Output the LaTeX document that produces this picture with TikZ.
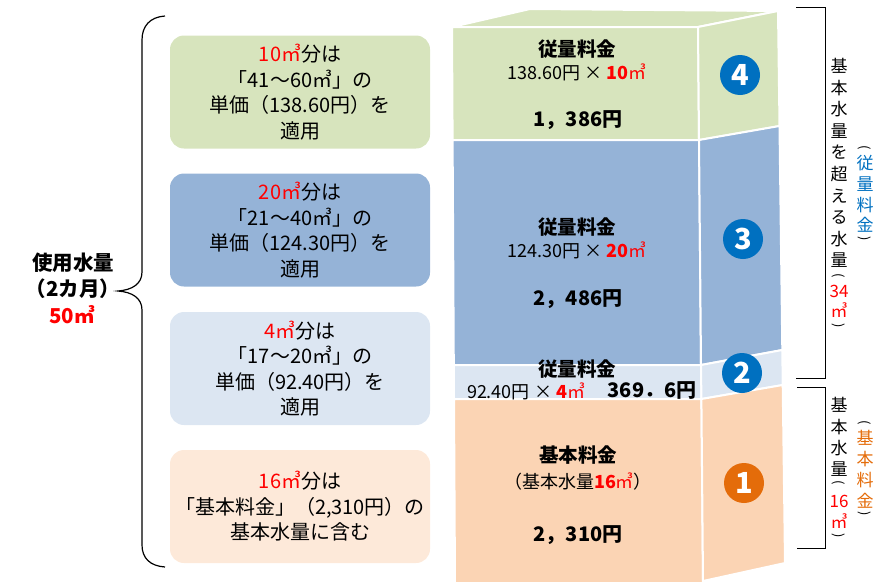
\documentclass[tikz,border=0pt]{standalone}
\usepackage{fontspec}
\setmainfont{Noto Sans CJK JP}
\definecolor{gfill}{HTML}{D7E4BD}
\definecolor{bfill}{HTML}{95B3D7}
\definecolor{lbfill}{HTML}{DCE6F2}
\definecolor{ofill}{HTML}{FBD4B4}
\definecolor{obox}{HTML}{FDE9D9}
\definecolor{cblue}{HTML}{0070C0}
\definecolor{corange}{HTML}{E46C0A}
\definecolor{redx}{HTML}{FF0000}
\tikzset{
 face/.style={draw=white, line width=2pt, line join=round},
 infobox/.style={rounded corners=14pt, minimum width=260pt, minimum height=113pt, inner sep=0pt, align=center, font=\fontsize{20}{25.5}\selectfont},
 num/.style={circle, minimum size=40pt, inner sep=0pt, text=white, font=\bfseries\fontsize{29}{29}\selectfont},
 ttl/.style={font=\bfseries\fontsize{19.5}{19.5}\selectfont, inner sep=0pt},
 calc/.style={font=\fontsize{18}{18}\selectfont, inner sep=0pt},
 amt/.style={font=\bfseries\fontsize{20}{20}\selectfont, inner sep=0pt},
 vch/.style={font=\fontsize{17}{17}\selectfont, inner sep=0pt},
 vpar/.style={font=\fontsize{13}{13}\selectfont, inner sep=0pt, rotate=-90},
 lbl/.style={font=\bfseries\fontsize{20.5}{20.5}\selectfont, inner sep=0pt},
 bracket/.style={draw=black, line width=1pt},
}
\begin{document}
\begin{tikzpicture}[x=1pt,y=-1pt]
\useasboundingbox (0,0) rectangle (890,581);
% stack faces
\filldraw[face, fill=gfill] (452,27) -- (530,9) -- (778,11) -- (698,27) -- cycle;
\filldraw[face, fill=gfill] (452,27) -- (698,27) -- (699,140) -- (452.6,140) -- cycle;
\filldraw[face, fill=gfill] (698,27) -- (778,11) -- (779.5,126) -- (699,140) -- cycle;
\filldraw[face, fill=bfill] (452.6,140) -- (699,140) -- (701,365) -- (453.8,365) -- cycle;
\filldraw[face, fill=bfill] (699,140) -- (779.5,126) -- (782.3,350) -- (701,365) -- cycle;
\filldraw[face, fill=lbfill] (453.8,365) -- (701,365) -- (701.4,399) -- (454,399) -- cycle;
\filldraw[face, fill=lbfill] (701,365) -- (782.3,350) -- (782.7,385) -- (701.4,399) -- cycle;
\filldraw[face, fill=ofill] (454,399) -- (701.4,399) -- (703,585) -- (455,585) -- cycle;
\filldraw[face, fill=ofill] (701.4,399) -- (782.7,385) -- (785,563) -- (703,581) -- cycle;
% stack texts
\node[ttl] (t4) at (577,49) {従量料金};
\node[calc] (c4) at (577,72) {138.60円 × {\bfseries\color{redx}10}{\color{redx}㎥}};
\node[amt] (a4) at (578,120) {1，386円};
\node[ttl] (t3) at (577,227) {従量料金};
\node[calc] (c3) at (577,250) {124.30円 × {\bfseries\color{redx}20}{\color{redx}㎥}};
\node[amt] (a3) at (578,299) {2，486円};
\node[ttl] (t2) at (577,369) {従量料金};
\node[calc] (c2) at (526,391) {92.40円 × {\bfseries\color{redx}4}{\color{redx}㎥}};
\node[amt] (a2) at (652,391) {369．6円};
\node[ttl] (t1) at (578,455) {基本料金};
\node[calc] (c1) at (578,482) {（基本水量{\bfseries\color{redx}16}{\color{redx}㎥}）};
\node[amt] (a1) at (578,535) {2，310円};
% circled numbers
\node[num, fill=cblue] (n4) at (740,75) {4};
\node[num, fill=cblue] (n3) at (743,239) {3};
\node[num, fill=cblue] (n2) at (742,373) {2};
\node[num, fill=corange] (n1) at (744,483) {1};
% left boxes
\node[infobox, fill=gfill] (b4) at (300,92) {{\color{redx}10㎥}分は\\「41～60㎥」の\\単価（138.60円）を\\適用};
\node[infobox, fill=bfill] (b3) at (300,230) {{\color{redx}20㎥}分は\\「21～40㎥」の\\単価（124.30円）を\\適用};
\node[infobox, fill=lbfill] (b2) at (300,368.5) {{\color{redx}4㎥}分は\\「17～20㎥」の\\単価（92.40円）を\\適用};
\node[infobox, fill=obox] (b1) at (300,506.5) {{\color{redx}16㎥}分は\\「基本料金」（2,310円）の\\基本水量に含む};
% left label and brace
\node[lbl] (l1) at (73,263) {使用水量};
\node[lbl] (l2) at (73,289) {（2カ月）};
\node[lbl, text=redx] (l3) at (72,315) {50㎥};
\draw[line width=1.2pt] (165,16) .. controls (150,17) and (142,26) .. (142,40) -- (142,272) .. controls (142,284) and (132,290) .. (118,291) .. controls (132,292) and (142,298) .. (142,310) -- (142,545) .. controls (142,558) and (150,566) .. (165,567);
% right brackets
\draw[bracket] (796,7) -- (825,7) -- (825,378) -- (796,378);
\draw[bracket] (797,387) -- (825,387) -- (825,548) -- (797,548);
% vertical texts
\foreach \c/\y/\col [count=\i] in {基/66/black,本/87.6/black,水/109/black,量/131/black,を/152/black,超/174/black,え/196/black,る/217/black,水/239/black,量/260/black,34/291/redx,㎥/310/redx}
  \node[vch, text=\col] (ua\i) at (839,\y) {\c};
\node[vpar] (uap1) at (839,276) {(};
\node[vpar] (uap2) at (839,326) {)};
\foreach \c/\y/\col [count=\i] in {従/163/cblue,量/184/cblue,料/205/cblue,金/225/cblue}
  \node[vch, text=\col] (ub\i) at (865,\y) {\c};
\node[vpar] (ubp1) at (865,148) {(};
\node[vpar] (ubp2) at (865,239) {)};
\foreach \c/\y/\col [count=\i] in {基/405/black,本/427/black,水/448/black,量/469/black,16/501/redx,㎥/521/redx}
  \node[vch, text=\col] (la\i) at (839,\y) {\c};
\node[vpar] (lap1) at (839,483) {(};
\node[vpar] (lap2) at (839,536) {)};
\foreach \c/\y/\col [count=\i] in {基/438/corange,本/459/corange,料/480/corange,金/501/corange}
  \node[vch, text=\col] (lb\i) at (865,\y) {\c};
\node[vpar] (lbp1) at (865,423) {(};
\node[vpar] (lbp2) at (865,514) {)};
\end{tikzpicture}
\end{document}
